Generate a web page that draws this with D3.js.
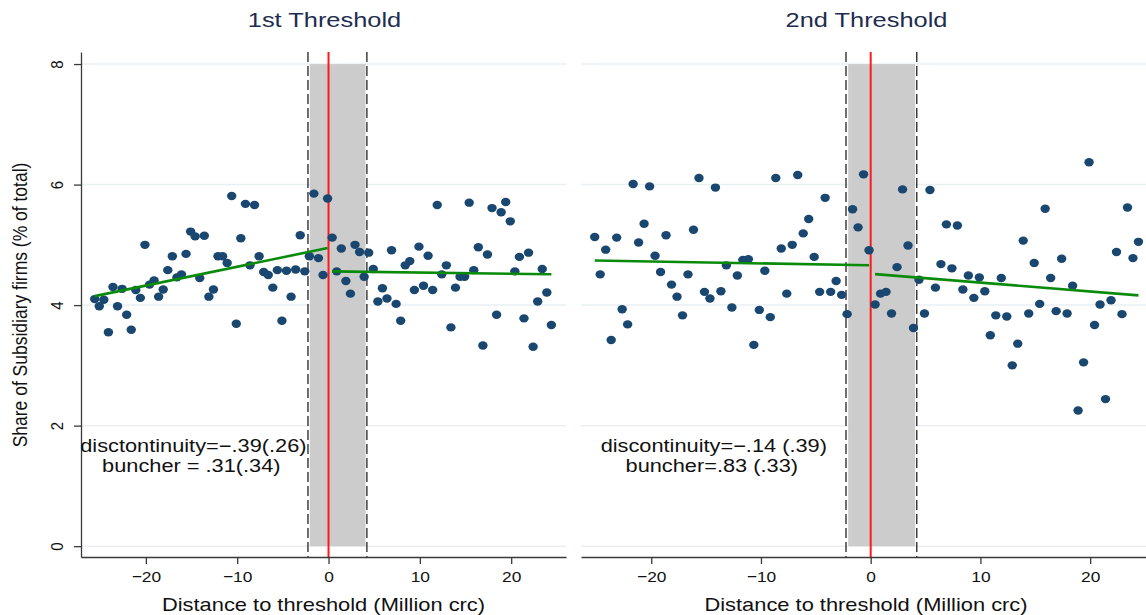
<!DOCTYPE html>
<html>
<head>
<meta charset="utf-8">
<script src="https://cdn.jsdelivr.net/npm/d3@7"></script>
<style>
  html, body { margin: 0; padding: 0; background: #fff; }
  svg { display: block; font-family: "Liberation Sans", Arial, Helvetica, sans-serif; }
</style>
</head>
<body>
<svg id="chart" width="1146" height="615"></svg>
<script>
// Binned shares of subsidiary firms around each threshold (bin midpoints, million crc)
const panelTitles = ["1st Threshold", "2nd Threshold"];

const t1PreX = [-25.6, -25.1, -24.6, -24.1, -23.6, -23.1, -22.6, -22.1, -21.6, -21.1,
  -20.6, -20.1, -19.6, -19.1, -18.6, -18.1, -17.6, -17.1, -16.6, -16.1,
  -15.6, -15.1, -14.6, -14.1, -13.6, -13.1, -12.6, -12.1, -11.6, -11.1,
  -10.6, -10.1, -9.6, -9.1, -8.6, -8.1, -7.6, -7.1, -6.6, -6.1,
  -5.6, -5.1, -4.6, -4.1, -3.6, -3.1, -2.6, -2.1, -1.6, -1.1, -0.6, -0.1];
const t1PreY = [4.10, 3.98, 4.09, 3.55, 4.30, 3.98, 4.27, 3.84, 3.59, 4.25,
  4.12, 5.00, 4.34, 4.41, 4.14, 4.26, 4.58, 4.81, 4.46, 4.51,
  4.85, 5.22, 5.14, 4.45, 5.15, 4.14, 4.26, 4.81, 4.81, 4.70,
  5.81, 3.69, 5.11, 5.68, 4.66, 5.66, 4.81, 4.55, 4.50, 4.29,
  4.58, 3.74, 4.57, 4.14, 4.59, 5.16, 4.56, 4.81, 5.85, 4.78, 4.50, 5.77];
const t1PostX = [0.4, 0.9, 1.4, 1.9, 2.4, 2.9, 3.4, 3.9, 4.4, 4.9,
  5.4, 5.9, 6.4, 6.9, 7.4, 7.9, 8.4, 8.9, 9.4, 9.9,
  10.4, 10.9, 11.4, 11.9, 12.4, 12.9, 13.4, 13.9, 14.4, 14.9,
  15.4, 15.9, 16.4, 16.9, 17.4, 17.9, 18.4, 18.9, 19.4, 19.9,
  20.4, 20.9, 21.4, 21.9, 22.4, 22.9, 23.4, 23.9, 24.4];
const t1PostY = [5.12, 4.56, 4.94, 4.40, 4.19, 5.00, 4.88, 4.47, 4.87, 4.60,
  4.06, 4.28, 4.11, 4.91, 4.02, 3.74, 4.66, 4.73, 4.25, 4.97,
  4.32, 4.82, 4.25, 5.66, 4.51, 4.66, 3.63, 4.29, 4.47, 4.47,
  5.70, 4.58, 4.96, 3.33, 4.84, 5.61, 3.84, 5.54, 5.71, 5.39,
  4.56, 4.80, 3.78, 4.87, 3.31, 4.06, 4.60, 4.21, 3.67];

const t2PreX = [-25.15, -24.65, -24.15, -23.65, -23.15, -22.65, -22.15, -21.65, -21.15, -20.65,
  -20.15, -19.65, -19.15, -18.65, -18.15, -17.65, -17.15, -16.65, -16.15, -15.65,
  -15.15, -14.65, -14.15, -13.65, -13.15, -12.65, -12.15, -11.65, -11.15, -10.65,
  -10.15, -9.65, -9.15, -8.65, -8.15, -7.65, -7.15, -6.65, -6.15, -5.65,
  -5.15, -4.65, -4.15, -3.65, -3.15, -2.65, -2.15, -1.65, -1.15, -0.65, -0.15];
const t2PreY = [5.13, 4.51, 4.92, 3.42, 5.12, 3.93, 3.68, 6.01, 5.04, 5.35,
  5.97, 4.82, 4.55, 5.16, 4.34, 4.14, 3.83, 4.51, 5.25, 6.11,
  4.22, 4.11, 5.95, 4.23, 4.66, 3.96, 4.49, 4.75, 4.76, 3.34,
  3.92, 4.57, 3.80, 6.11, 4.94, 4.19, 5.00, 6.16, 5.19, 5.43,
  4.80, 4.22, 5.78, 4.22, 4.40, 4.17, 3.85, 5.59, 5.29, 6.17, 4.91];
const t2PostX = [0.4, 0.9, 1.4, 1.9, 2.4, 2.9, 3.4, 3.9, 4.4, 4.9,
  5.4, 5.9, 6.4, 6.9, 7.4, 7.9, 8.4, 8.9, 9.4, 9.9,
  10.4, 10.9, 11.4, 11.9, 12.4, 12.9, 13.4, 13.9, 14.4, 14.9,
  15.4, 15.9, 16.4, 16.9, 17.4, 17.9, 18.4, 18.9, 19.4, 19.9,
  20.4, 20.9, 21.4, 21.9, 22.4, 22.9, 23.4, 23.9, 24.4];
const t2PostY = [4.01, 4.19, 4.22, 3.86, 4.63, 5.92, 4.99, 3.62, 4.42, 3.86,
  5.91, 4.29, 4.68, 5.34, 4.61, 5.32, 4.26, 4.49, 4.12, 4.46,
  4.23, 3.50, 3.83, 4.45, 3.81, 3.00, 3.36, 5.07, 3.86, 4.70,
  4.02, 5.60, 4.45, 3.90, 4.77, 3.86, 4.32, 2.25, 3.05, 6.37,
  3.67, 4.01, 2.44, 4.08, 4.88, 3.85, 5.62, 4.78, 5.05];

// Linear fits on each side of the threshold; the post intercept is the pre
// intercept plus the estimated discontinuity.
const preIntercept = [4.95, 4.66];
const preSlope = [0.0313, -0.0032];
const discontinuity = [-0.39, -0.14];
const postSlope = [-0.002, -0.0147];

// Bunching window (shaded) and its bounds (dashed)
const windowShade = [-2.05, 4.05];
const windowBounds = [-2.25, 4.2];

const annotationLines = [
  ["disctontinuity=\u2212.39(.26)", "buncher = .31(.34)"],
  ["discontinuity=\u2212.14 (.39)", "buncher=.83 (.33)"]
];

const xTicks = [-20, -10, 0, 10, 20];
const yTicks = [0, 2, 4, 6, 8];
const xTitle = "Distance to threshold (Million crc)";
const yTitle = "Share of Subsidiary firms (% of total)";

// ---- layout ----
const svg = d3.select("#chart");
const plotTop = 52, plotBottom = 557;
const y = d3.scaleLinear().domain([-0.18, 8.2]).range([plotBottom, plotTop]);

const panels = [
  { title: panelTitles[0], x: d3.scaleLinear().domain([-27.1, 26.0]).range([81, 566]),
    pre: [t1PreX, t1PreY], post: [t1PostX, t1PostY], yAxis: true,
    noteX: -14.8, titleX: 324.5, axisTitleX: 323.5 },
  { title: panelTitles[1], x: d3.scaleLinear().domain([-26.4, 26.0]).range([581, 1156]),
    pre: [t2PreX, t2PreY], post: [t2PostX, t2PostY], yAxis: false,
    noteX: -14.3, titleX: 866.5, axisTitleX: 866 }
];

const navy = "#1a476f";
const axisColor = "#3a3a3a";

// Wide, Stata-like lettering: text stretched horizontally about its anchor
function wideText(parent, x, yy, str, size, sx, fill) {
  return parent.append("text")
    .attr("transform", `translate(${x},${yy}) scale(${sx},1)`)
    .attr("text-anchor", "middle").attr("font-size", size)
    .attr("fill", fill || "#111").text(str);
}

panels.forEach((p, i) => {
  const x = p.x;
  const [x0, x1] = x.range();
  const g = svg.append("g");

  // horizontal grid
  g.selectAll("line.grid").data(yTicks).join("line")
    .attr("x1", x0).attr("x2", x1)
    .attr("y1", d => y(d)).attr("y2", d => y(d))
    .attr("stroke", "#e8f0f2").attr("stroke-width", 1.5);

  // shaded bunching window
  g.append("rect")
    .attr("x", x(windowShade[0])).attr("width", x(windowShade[1]) - x(windowShade[0]))
    .attr("y", y(8)).attr("height", y(0) - y(8))
    .attr("fill", "#cccccc");

  // dashed window bounds
  g.selectAll("line.bound").data(windowBounds).join("line")
    .attr("x1", d => x(d)).attr("x2", d => x(d))
    .attr("y1", plotTop).attr("y2", plotBottom)
    .attr("stroke", "#222").attr("stroke-width", 1.3)
    .attr("stroke-dasharray", "10,4");

  // threshold
  g.append("line")
    .attr("x1", x(0)).attr("x2", x(0)).attr("y1", plotTop).attr("y2", plotBottom)
    .attr("stroke", "#ff1a1a").attr("stroke-width", 2);

  // scatter
  const pts = p.pre[0].map((v, k) => [v, p.pre[1][k]])
    .concat(p.post[0].map((v, k) => [v, p.post[1][k]]));
  g.selectAll("ellipse.pt").data(pts).join("ellipse")
    .attr("cx", d => x(d[0])).attr("cy", d => y(d[1]))
    .attr("rx", 4.7).attr("ry", 4.2)
    .attr("fill", navy);

  // fit lines
  const preX = d3.extent(p.pre[0]);
  const postX = d3.extent(p.post[0]);
  const postIntercept = preIntercept[i] + discontinuity[i];
  const fits = [
    preX.map(v => [v, preIntercept[i] + preSlope[i] * v]),
    postX.map(v => [v, postIntercept + postSlope[i] * v])
  ];
  const line = d3.line().x(d => x(d[0])).y(d => y(d[1]));
  g.selectAll("path.fit").data(fits).join("path")
    .attr("d", line).attr("fill", "none")
    .attr("stroke", "#0a8a0a").attr("stroke-width", 2.6);

  // x axis
  const xa = g.append("g").attr("transform", `translate(0,${plotBottom})`)
    .call(d3.axisBottom(x).tickValues(xTicks).tickSize(7).tickSizeOuter(0).tickPadding(5));
  xa.select(".domain").attr("stroke", axisColor).attr("stroke-width", 1.3);
  xa.selectAll(".tick line").attr("stroke", axisColor).attr("stroke-width", 1.3);
  xa.selectAll(".tick text").attr("font-size", 15.5).attr("fill", "#111")
    .attr("font-family", "Liberation Sans, Arial, sans-serif")
    .attr("y", 0).attr("dy", 0)
    .attr("transform", "translate(0,25) scale(1.12,1)");

  // y axis (left panel only)
  if (p.yAxis) {
    const ya = g.append("g").attr("transform", `translate(${x0},0)`)
      .call(d3.axisLeft(y).tickValues(yTicks).tickSize(7).tickSizeOuter(0).tickPadding(0));
    ya.select(".domain").attr("stroke", axisColor).attr("stroke-width", 1.3);
    ya.selectAll(".tick line").attr("stroke", axisColor).attr("stroke-width", 1.3);
    ya.selectAll(".tick text").attr("font-size", 15).attr("fill", "#111")
      .attr("font-family", "Liberation Sans, Arial, sans-serif")
      .attr("x", 0).attr("dy", 0)
      .attr("text-anchor", "middle")
      .attr("transform", "translate(-18,0) rotate(-90) scale(1,1.12)");
  }

  // panel title
  wideText(svg, p.titleX, 26.5, p.title, 21, 1.21, "#1e2d4f");

  // x title
  wideText(svg, p.axisTitleX, 611, xTitle, 18, 1.215);

  // estimates
  annotationLines[i].forEach((t, k) => {
    wideText(svg, x(p.noteX) + (k === 1 ? -2 : 0), y(1.565 - k * 0.34), t, 18, 1.21);
  });
});

// y title
svg.append("text")
  .attr("transform", "translate(27,305) rotate(-90) scale(1,1.12)")
  .attr("text-anchor", "middle").attr("font-size", 17.5)
  .attr("fill", "#111").text(yTitle);
</script>
</body>
</html>
